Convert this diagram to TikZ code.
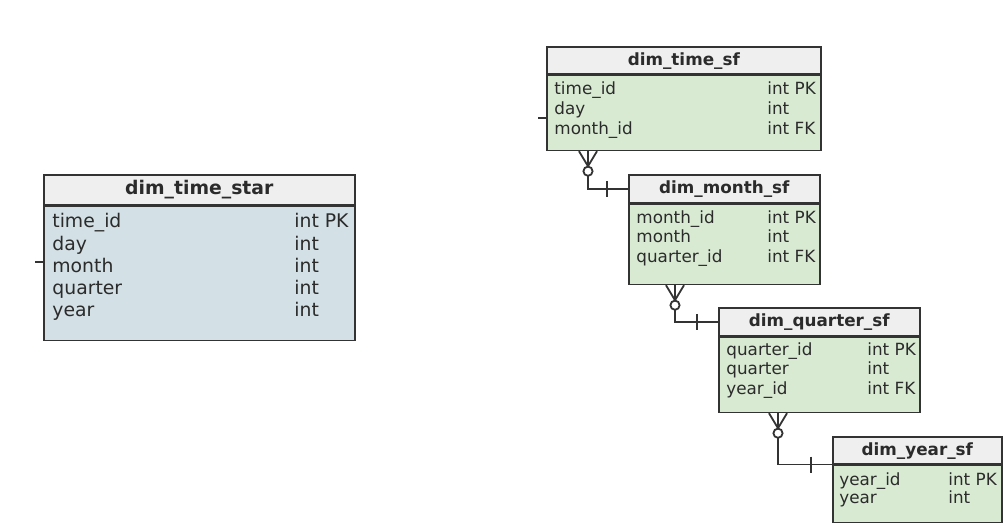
\documentclass[tikz,border=0pt]{standalone}
\usepackage{fontspec}
\setmainfont{DejaVu Sans}
\usetikzlibrary{positioning}

\definecolor{linecol}{HTML}{333333}
\definecolor{textcol}{HTML}{2B2B2B}
\definecolor{headfill}{HTML}{EFEFEF}
\definecolor{starfill}{HTML}{D3E0E5}
\definecolor{sffill}{HTML}{D9EAD3}

\begin{document}
\begin{tikzpicture}[
    x=0.5pt, y=-0.5pt,
    every node/.style={text=textcol},
    tabhead/.style={draw=linecol, line width=0.8pt, fill=headfill, anchor=north west,
        inner sep=0pt, text height=0.76em, text depth=0.24em, font=\fontsize{#1}{#1}\selectfont\bfseries},
    tabbody/.style={draw=linecol, line width=0.8pt, anchor=north west, inner sep=0pt},
    col/.style={anchor=base west, inner sep=0pt, font=\fontsize{#1}{#1}\selectfont},
    link/.style={draw=linecol, line width=0.9pt},
]
    \useasboundingbox (0,0) rectangle (1008,528);

    % star schema
    \node [tabhead=9.4, minimum width=155.5pt, minimum height=15pt] (shead) at (43,174) {dim\_time\_star};
    \node [tabbody, fill=starfill, minimum width=155.5pt, minimum height=67pt] (sbody) at (shead.south west) {};
    \foreach \n/\t [count=\i] in {time\_id/int PK, day/int, month/int, quarter/int, year/int} {
        \node [col=9.4] (s\i n) at (52, {228+22.25*(\i-1)}) {\n};
        \node [col=9.4] (s\i t) at (294, {228+22.25*(\i-1)}) {\t};
    }
    \draw [link] ([yshift=5.5pt]sbody.west) -- ++(-4pt,0);

    % snowflake schema
    \node [tabhead=8.4, minimum width=137pt, minimum height=13.5pt] (thead) at (546,46) {dim\_time\_sf};
    \node [tabbody, fill=sffill, minimum width=137pt, minimum height=37.5pt] (tbody) at (thead.south west) {};
    \foreach \n/\t [count=\i] in {time\_id/int PK, day/int, month\_id/int FK} {
        \node [col=8.4] (t\i n) at (554, {94.5+20*(\i-1)}) {\n};
        \node [col=8.4] (t\i t) at (767, {94.5+20*(\i-1)}) {\t};
    }
    \draw [link] ([yshift=-2.75pt]tbody.west) -- ++(-4pt,0);

    \node [tabhead=8.4, minimum width=95.5pt, minimum height=14pt] (mhead) at (628,174) {dim\_month\_sf};
    \node [tabbody, fill=sffill, minimum width=95.5pt, minimum height=40pt] (mbody) at (mhead.south west) {};
    \foreach \n/\t [count=\i] in {month\_id/int PK, month/int, quarter\_id/int FK} {
        \node [col=8.4] (m\i n) at (636, {223.5+19.5*(\i-1)}) {\n};
        \node [col=8.4] (m\i t) at (767, {223.5+19.5*(\i-1)}) {\t};
    }

    \node [tabhead=8.4, minimum width=100.5pt, minimum height=14pt] (qhead) at (718,307) {dim\_quarter\_sf};
    \node [tabbody, fill=sffill, minimum width=100.5pt, minimum height=37.5pt] (qbody) at (qhead.south west) {};
    \foreach \n/\t [count=\i] in {quarter\_id/int PK, quarter/int, year\_id/int FK} {
        \node [col=8.4] (q\i n) at (726, {355.5+19.5*(\i-1)}) {\n};
        \node [col=8.4] (q\i t) at (867, {355.5+19.5*(\i-1)}) {\t};
    }

    \node [tabhead=8.4, minimum width=84.5pt, minimum height=13.5pt] (yhead) at (832,436) {dim\_year\_sf};
    \node [tabbody, fill=sffill, minimum width=84.5pt, minimum height=28.5pt] (ybody) at (yhead.south west) {};
    \foreach \n/\t [count=\i] in {year\_id/int PK, year/int} {
        \node [col=8.4] (y\i n) at (839, {485.5+18.5*(\i-1)}) {\n};
        \node [col=8.4] (y\i t) at (948, {485.5+18.5*(\i-1)}) {\t};
    }

    % many-to-one links
    \foreach \src/\off/\dst in {tbody/21pt/mhead.west, mbody/23.5pt/qhead.west, qbody/30pt/yhead.south west} {
        \coordinate (foot) at ([xshift=\off]\src.south west);
        \draw [link] ([xshift=-4.5pt]foot) -- ([yshift=-7.5pt]foot) -- ([xshift=4.5pt]foot)
            (foot) -- ([yshift=-7.5pt]foot);
        \draw [link] ([yshift=-10pt]foot) circle [radius=2.3pt];
        \draw [link] ([yshift=-12.3pt]foot) |- (\dst);
        \draw [link] ([xshift=-10.5pt,yshift=4pt]\dst) -- ([xshift=-10.5pt,yshift=-4pt]\dst);
    }
\end{tikzpicture}
\end{document}
